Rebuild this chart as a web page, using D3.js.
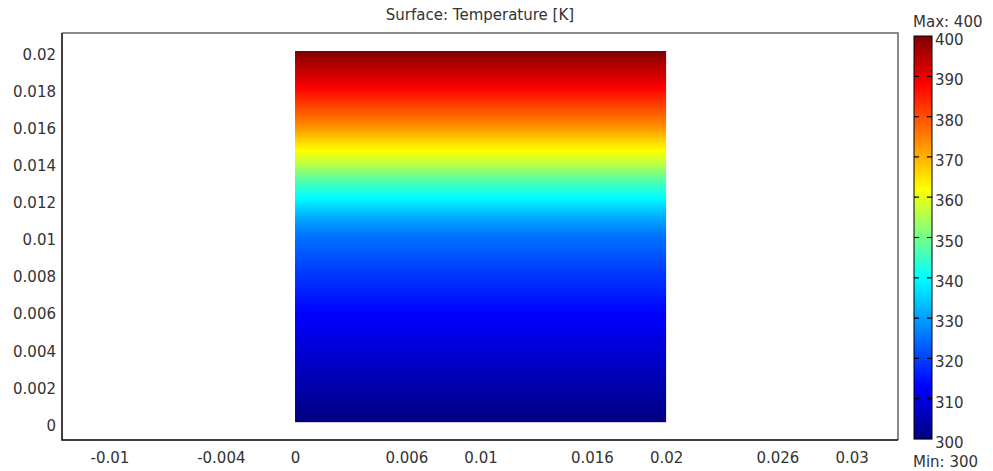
<!DOCTYPE html>
<html>
<head>
<meta charset="utf-8">
<script src="https://cdn.jsdelivr.net/npm/d3@7"></script>
<style>
  body { margin: 0; background: #fff; }
  svg text { font-family: "DejaVu Sans", sans-serif; font-size: 15px; fill: #333; }
</style>
</head>
<body>
<svg width="993" height="471"></svg>
<script>
// temperature read along the height of the block (it does not vary with x)
const heights = [0, 0.002, 0.004, 0.006, 0.008, 0.01, 0.011, 0.012, 0.013, 0.014, 0.015, 0.016, 0.017, 0.018, 0.019, 0.02];
const temps = [300, 304.5, 309, 313.5, 319, 325, 331, 339, 347, 357, 365, 374, 381, 388, 394, 400];

const blockX = [0, 0.02];
const xTicks = [-0.01, -0.004, 0, 0.006, 0.01, 0.016, 0.02, 0.026, 0.03];
const yTicks = [0, 0.002, 0.004, 0.006, 0.008, 0.01, 0.012, 0.014, 0.016, 0.018, 0.02];
const cbTicks = [300, 310, 320, 330, 340, 350, 360, 370, 380, 390, 400];

// rainbow colour table
const cmapStops = [300, 313, 340, 362, 388, 400];
const cmapColors = ["#000080", "#0000ff", "#00ffff", "#ffff00", "#ff0000", "#800000"];

const svg = d3.select("svg");
const fmt = (d) => String(+d.toFixed(3));

const x = d3.scaleLinear().domain([-0.01256, 0.0325]).range([62, 898]);
const y = d3.scaleLinear().domain([-0.00097, 0.02097]).range([440, 33]);
const color = d3.scaleLinear().domain(cmapStops).range(cmapColors).interpolate(d3.interpolateRgb);
const tempAt = d3.scaleLinear().domain(heights).range(temps);

// surface
const rows = d3.range(Math.round(y(0.02)), Math.round(y(0)));
svg.append("g")
  .selectAll("rect")
  .data(rows)
  .join("rect")
  .attr("x", x(blockX[0]))
  .attr("width", x(blockX[1]) - x(blockX[0]))
  .attr("y", (r) => r)
  .attr("height", 1.2)
  .attr("fill", (r) => color(tempAt(y.invert(r + 0.5))));

// frame
const frame = svg.append("g").attr("fill", "none").attr("stroke-width", 1.5);
frame.append("path")
  .attr("d", `M${x.range()[0]},${y.range()[1]}H${x.range()[1]}V${y.range()[0]}`)
  .attr("stroke", "#666");
frame.append("path")
  .attr("d", `M${x.range()[0]},${y.range()[1]}V${y.range()[0]}H${x.range()[1]}`)
  .attr("stroke", "#000");

// axes
const yAxis = svg.append("g")
  .attr("transform", "translate(62,0)")
  .call(d3.axisLeft(y).tickValues(yTicks).tickSize(0).tickPadding(6).tickFormat(fmt));
yAxis.select(".domain").remove();
yAxis.selectAll("text").attr("dy", "0.55em").style("font-size", null).attr("font-size", null);

const xAxis = svg.append("g")
  .attr("transform", "translate(0,440)")
  .call(d3.axisBottom(x).tickValues(xTicks).tickSize(0).tickPadding(12).tickFormat(fmt));
xAxis.select(".domain").remove();

svg.selectAll(".tick text").attr("font-family", null).attr("font-size", null).attr("fill", "#333");

// title
svg.append("text")
  .attr("x", 480)
  .attr("y", 20)
  .attr("text-anchor", "middle")
  .text("Surface: Temperature [K]");

// colour bar
const cb = d3.scaleLinear().domain([300, 400]).range([439, 36]);
const cbX = 914, cbW = 18;
const cbRows = d3.range(Math.round(cb(400)), Math.round(cb(300)));
svg.append("g")
  .selectAll("rect")
  .data(cbRows)
  .join("rect")
  .attr("x", cbX)
  .attr("width", cbW)
  .attr("y", (r) => r)
  .attr("height", 1.2)
  .attr("fill", (r) => color(cb.invert(r + 0.5)));
svg.append("rect")
  .attr("x", cbX)
  .attr("y", cb(400))
  .attr("width", cbW)
  .attr("height", cb(300) - cb(400))
  .attr("fill", "none")
  .attr("stroke", "#000")
  .attr("stroke-width", 1);

const inner = cbTicks.slice(1, -1);
svg.append("g")
  .selectAll("path")
  .data(inner)
  .join("path")
  .attr("d", (t) => `M${cbX},${cb(t)}h5M${cbX + cbW - 5},${cb(t)}h5`)
  .attr("stroke", "#000")
  .attr("stroke-width", 1.2);

svg.append("g")
  .selectAll("text")
  .data(cbTicks)
  .join("text")
  .attr("x", cbX + cbW + 3)
  .attr("y", (t) => cb(t))
  .attr("dy", "0.6em")
  .text((t) => t);

svg.append("text").attr("x", 913).attr("y", 27).text("Max: " + d3.max(cbTicks));
svg.append("text").attr("x", 913).attr("y", 467).text("Min: " + d3.min(cbTicks));
</script>
</body>
</html>
